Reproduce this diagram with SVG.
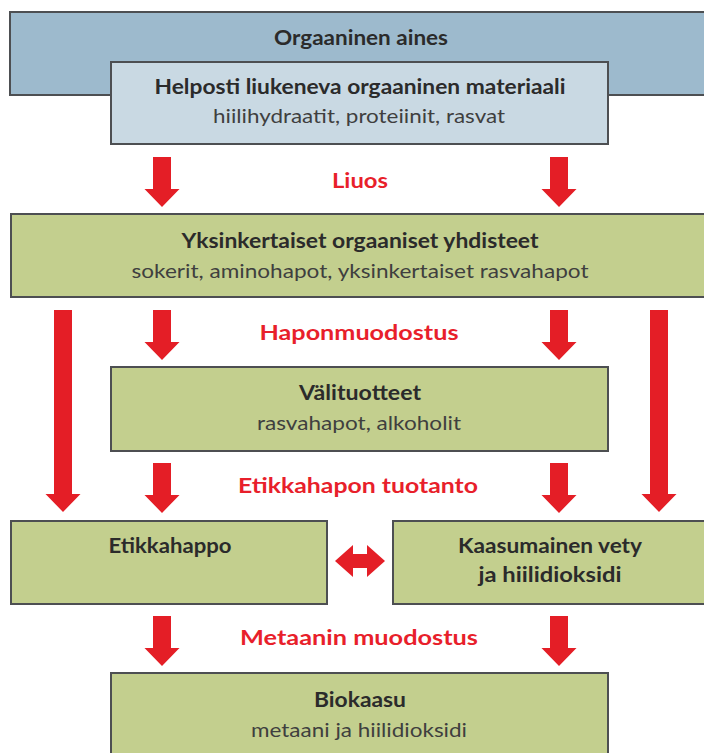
<svg xmlns="http://www.w3.org/2000/svg" xmlns:xlink="http://www.w3.org/1999/xlink" width="704" height="753" viewBox="0 0 704 753">
<style>
.box{stroke:#4d4f52;stroke-width:2}
.blue{fill:#9dbacd}
.lblue{fill:#c9d9e3}
.green{fill:#c3cf8e}
.t{font-family:Lato,"Open Sans","Liberation Sans",sans-serif;font-size:20px;text-anchor:middle}
.b{font-weight:bold;fill:#2b2b2b}
.s{font-weight:normal;fill:#3f3f3f}
.r{font-weight:bold;fill:#e81f2b}
.arr{fill:#e41e26}
</style>
<defs>
<path id="a50" d="M-9 0H9V32H17.5L0 50L-17.5 32H-9Z"/>
<path id="a202" d="M-9 0H9V184H17.5L0 202L-17.5 184H-9Z"/>
</defs>
<rect width="704" height="753" fill="#ffffff"/>
<g id="node-orgaaninen-aines">
<rect class="box blue" x="10" y="12" width="710" height="83"/>
<text class="t b" x="361" y="45" textLength="174" lengthAdjust="spacingAndGlyphs">Orgaaninen aines</text>
</g>
<g id="node-helposti">
<rect class="box lblue" x="111" y="62" width="497" height="82"/>
<text class="t b" x="360" y="94" textLength="411" lengthAdjust="spacingAndGlyphs">Helposti liukeneva orgaaninen materiaali</text>
<text class="t s" x="359" y="123" textLength="292" lengthAdjust="spacingAndGlyphs">hiilihydraatit, proteiinit, rasvat</text>
</g>
<g id="node-yksinkertaiset">
<rect class="box green" x="11" y="214" width="710" height="83"/>
<text class="t b" x="360" y="248" textLength="357" lengthAdjust="spacingAndGlyphs">Yksinkertaiset orgaaniset yhdisteet</text>
<text class="t s" x="360" y="278" textLength="457" lengthAdjust="spacingAndGlyphs">sokerit, aminohapot, yksinkertaiset rasvahapot</text>
</g>
<g id="node-valituotteet">
<rect class="box green" x="111" y="367" width="497" height="84"/>
<text class="t b" x="360" y="400" textLength="122" lengthAdjust="spacingAndGlyphs">Välituotteet</text>
<text class="t s" x="359" y="430" textLength="204" lengthAdjust="spacingAndGlyphs">rasvahapot, alkoholit</text>
</g>
<g id="node-etikkahappo">
<rect class="box green" x="11" y="521" width="316" height="83"/>
<text class="t b" x="170" y="553" textLength="123" lengthAdjust="spacingAndGlyphs">Etikkahappo</text>
</g>
<g id="node-kaasumainen">
<rect class="box green" x="393" y="521" width="330" height="83"/>
<text class="t b" x="550" y="553" textLength="184" lengthAdjust="spacingAndGlyphs">Kaasumainen vety</text>
<text class="t b" x="550" y="582" textLength="143" lengthAdjust="spacingAndGlyphs">ja hiilidioksidi</text>
</g>
<g id="node-biokaasu">
<rect class="box green" x="111" y="673" width="497" height="90"/>
<text class="t b" x="360" y="707" textLength="92" lengthAdjust="spacingAndGlyphs">Biokaasu</text>
<text class="t s" x="359" y="737" textLength="216" lengthAdjust="spacingAndGlyphs">metaani ja hiilidioksidi</text>
</g>
<g id="connectors" class="arr">
<use xlink:href="#a50" x="162" y="157"/>
<use xlink:href="#a50" x="559" y="157"/>
<use xlink:href="#a50" x="162" y="310"/>
<use xlink:href="#a50" x="559" y="310"/>
<use xlink:href="#a202" x="63" y="310"/>
<use xlink:href="#a202" x="659" y="310"/>
<use xlink:href="#a50" x="162" y="463"/>
<use xlink:href="#a50" x="559" y="463"/>
<use xlink:href="#a50" x="162" y="616"/>
<use xlink:href="#a50" x="559" y="616"/>
<path d="M335 561L353 545V554H367V545L385 561L367 577V568H353V577Z"/>
</g>
<g id="labels">
<text class="t r" x="360" y="188" textLength="56" lengthAdjust="spacingAndGlyphs">Liuos</text>
<text class="t r" x="359" y="340" textLength="199" lengthAdjust="spacingAndGlyphs">Haponmuodostus</text>
<text class="t r" x="358" y="493" textLength="240" lengthAdjust="spacingAndGlyphs">Etikkahapon tuotanto</text>
<text class="t r" x="359" y="645" textLength="238" lengthAdjust="spacingAndGlyphs">Metaanin muodostus</text>
</g>
</svg>
